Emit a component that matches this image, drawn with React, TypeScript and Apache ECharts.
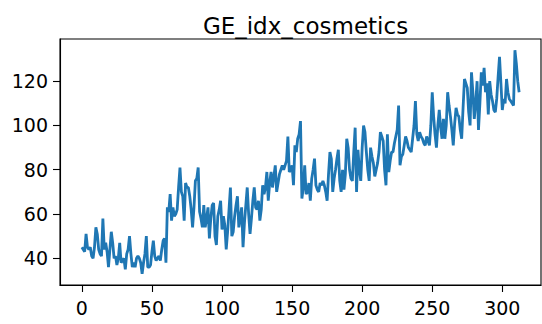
import React, { useEffect, useRef } from "react";
import * as echarts from "echarts";

// Monthly cosmetics index values, index 0..312
const seriesValues: number[] = [
  45, 44, 43, 51, 45, 44, 45, 41, 40, 45,
  54, 51, 44, 42, 41, 58, 44, 47, 43, 36,
  44, 52, 47, 40, 41, 37, 40, 47, 38, 39,
  40, 35, 42, 44, 50, 42, 36, 38, 36, 40,
  41, 40, 38, 33, 38, 42, 50, 36, 36, 37,
  43, 48, 41, 39, 40, 41, 39, 44, 48, 49,
  38, 63, 61, 69, 57, 63, 59, 60, 62, 72,
  81, 70, 68, 57, 74, 72, 72, 68, 62, 54,
  63, 75, 76, 81, 61, 58, 54, 64, 54, 58,
  63, 49, 58, 64, 65, 50, 46, 59, 62, 66,
  53, 59, 55, 44, 52, 62, 72, 50, 52, 59,
  64, 68, 54, 58, 63, 45, 56, 64, 72, 60,
  51, 58, 66, 72, 63, 62, 66, 57, 62, 73,
  69, 72, 79, 66, 74, 79, 72, 77, 82, 70,
  74, 78, 80, 82, 80, 82, 84, 95, 79, 80,
  82, 73, 91, 88, 94, 96, 102, 67, 72, 82,
  69, 70, 74, 66, 76, 80, 85, 73, 71, 70,
  74, 73, 75, 73, 70, 66, 78, 88, 85, 70,
  76, 80, 85, 89, 75, 70, 80, 71, 78, 94,
  90, 80, 76, 75, 88, 99, 70, 89, 80, 75,
  90, 100, 97, 88, 80, 75, 90, 86, 83, 77,
  80, 83, 88, 97, 95, 93, 80, 73, 96, 79,
  84, 88, 88, 92, 95, 98, 109, 82, 86, 87,
  91, 95, 93, 90, 89, 88, 94, 100, 111, 96,
  93, 97, 95, 94, 92, 91, 95, 93, 91, 100,
  115, 104, 96, 90, 100, 107, 99, 94, 103, 94,
  100, 115, 109, 104, 98, 91, 101, 108, 105, 104,
  98, 94, 108, 121, 119, 117, 106, 100, 124, 115,
  103, 110, 120, 98, 110, 124, 118, 126, 115, 119,
  105, 120, 114, 111, 107, 106, 112, 122, 131, 119,
  107, 112, 110, 121, 115, 112, 111, 110, 109, 134,
  128, 120, 115,
];

const xTicks: number[] = [0, 50, 100, 150, 200, 250, 300];
const yTicks: number[] = [40, 60, 80, 100, 120];
const chartTitle = "GE_idx_cosmetics";

export default function App() {
  const ref = useRef<HTMLDivElement>(null);

  useEffect(() => {
    if (!ref.current) return;
    const chart = echarts.init(ref.current, undefined, { renderer: "svg" });

    const points = seriesValues.map((v, i) => [i, v]);
    const n = seriesValues.length - 1;
    const xPad = n * 0.05;
    const yMin = Math.min(...seriesValues);
    const yMax = Math.max(...seriesValues);
    const yPad = (yMax - yMin) * 0.05;
    const font = "DejaVu Sans";

    const tickStyle = { color: "#000", width: 1.1 };

    chart.setOption({
      animation: false,
      backgroundColor: "#ffffff",
      title: {
        text: chartTitle,
        left: 300.5,
        top: 9,
        textAlign: "center",
        textStyle: { fontFamily: font, fontSize: 23, fontWeight: "normal", color: "#000" },
      },
      grid: {
        left: 60,
        top: 39,
        width: 481,
        height: 246,
        show: true,
        borderColor: "#000",
        borderWidth: 1.1,
        backgroundColor: "transparent",
      },
      xAxis: {
        type: "value",
        min: -xPad,
        max: n + xPad,
        splitLine: { show: false },
        axisLine: { show: true, onZero: false, lineStyle: tickStyle },
        axisTick: {
          show: true,
          customValues: xTicks,
          length: 7,
          lineStyle: tickStyle,
        },
        axisLabel: {
          customValues: xTicks,
          margin: 13,
          fontFamily: font,
          fontSize: 19,
          color: "#000",
        },
      },
      yAxis: {
        type: "value",
        min: yMin - yPad,
        max: yMax + yPad,
        splitLine: { show: false },
        axisLine: { show: true, onZero: false, lineStyle: tickStyle },
        axisTick: {
          show: true,
          customValues: yTicks,
          length: 7,
          lineStyle: tickStyle,
        },
        axisLabel: {
          customValues: yTicks,
          margin: 12,
          fontFamily: font,
          fontSize: 19,
          color: "#000",
        },
      },
      series: [
        {
          type: "line",
          data: points,
          showSymbol: false,
          lineStyle: { color: "#1f77b4", width: 2.8 },
          itemStyle: { color: "#1f77b4" },
        },
      ],
    });

    return () => chart.dispose();
  }, []);

  return (
    <div
      ref={ref}
      style={{ position: "fixed", left: 0, top: 0, width: 542, height: 324 }}
    />
  );
}
